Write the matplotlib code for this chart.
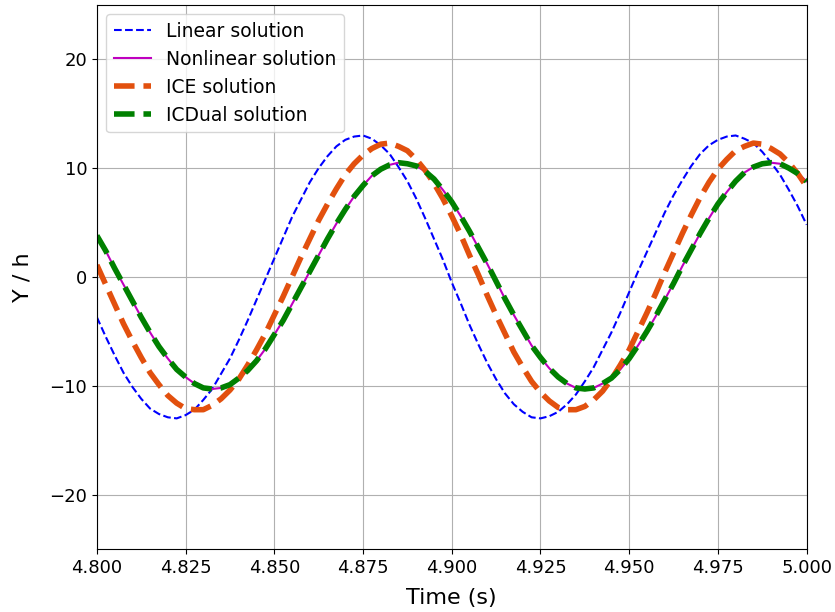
import matplotlib
matplotlib.use('Agg')
import matplotlib.pyplot as plt

# Time samples (s)
time = [4.8000, 4.8025, 4.8050, 4.8075, 4.8100, 4.8125, 4.8150, 4.8175, 4.8200, 4.8225,
        4.8250, 4.8275, 4.8300, 4.8325, 4.8350, 4.8375, 4.8400, 4.8425, 4.8450, 4.8475,
        4.8500, 4.8525, 4.8550, 4.8575, 4.8600, 4.8625, 4.8650, 4.8675, 4.8700, 4.8725,
        4.8750, 4.8775, 4.8800, 4.8825, 4.8850, 4.8875, 4.8900, 4.8925, 4.8950, 4.8975,
        4.9000, 4.9025, 4.9050, 4.9075, 4.9100, 4.9125, 4.9150, 4.9175, 4.9200, 4.9225,
        4.9250, 4.9275, 4.9300, 4.9325, 4.9350, 4.9375, 4.9400, 4.9425, 4.9450, 4.9475,
        4.9500, 4.9525, 4.9550, 4.9575, 4.9600, 4.9625, 4.9650, 4.9675, 4.9700, 4.9725,
        4.9750, 4.9775, 4.9800, 4.9825, 4.9850, 4.9875, 4.9900, 4.9925, 4.9950, 4.9975,
        5.0000]

# Values
linear_y = [-3.7, -5.5, -7.2, -8.8, -10.1, -11.2, -12.1, -12.6, -12.9, -13.0,
            -12.7, -12.2, -11.3, -10.3, -8.9, -7.5, -5.8, -4.0, -2.1, -0.2,
            1.7, 3.6, 5.5, 7.1, 8.7, 10.0, 11.1, 12.0, 12.6, 12.9,
            13.0, 12.7, 12.1, 11.3, 10.1, 8.8, 7.2, 5.4, 3.5, 1.6,
            -0.5, -2.4, -4.4, -6.2, -7.9, -9.4, -10.7, -11.7, -12.4, -12.9,
            -13.0, -12.8, -12.4, -11.7, -10.8, -9.6, -8.3, -6.7, -5.1, -3.3,
            -1.4, 0.5, 2.3, 4.1, 5.9, 7.5, 8.9, 10.2, 11.3, 12.1,
            12.6, 12.9, 13.0, 12.7, 12.3, 11.5, 10.5, 9.4, 8.0, 6.5,
            4.8]

nonlinear_y = [3.8, 2.4, 0.8, -0.7, -2.2, -3.7, -5.1, -6.4, -7.5, -8.5,
               -9.2, -9.8, -10.2, -10.3, -10.2, -9.9, -9.3, -8.6, -7.7, -6.6,
               -5.3, -4.0, -2.5, -1.0, 0.5, 2.0, 3.5, 4.9, 6.2, 7.4,
               8.4, 9.3, 9.9, 10.3, 10.5, 10.4, 10.2, 9.7, 9.0, 8.0,
               6.9, 5.6, 4.2, 2.7, 1.2, -0.4, -2.0, -3.5, -4.9, -6.3,
               -7.4, -8.4, -9.2, -9.8, -10.2, -10.3, -10.2, -9.8, -9.3, -8.5,
               -7.5, -6.3, -5.0, -3.6, -2.1, -0.6, 1.0, 2.5, 4.0, 5.4,
               6.7, 7.8, 8.8, 9.6, 10.1, 10.4, 10.5, 10.4, 10.0, 9.5,
               8.8]

ice_y = [1.1, -0.7, -2.5, -4.3, -5.9, -7.4, -8.8, -9.9, -10.9, -11.6,
         -12.1, -12.2, -12.2, -11.8, -11.2, -10.4, -9.4, -8.1, -6.7, -5.2,
         -3.5, -1.8, 0.0, 1.8, 3.5, 5.2, 6.7, 8.1, 9.4, 10.4,
         11.2, 11.8, 12.2, 12.3, 12.0, 11.6, 10.8, 9.8, 8.6, 7.2,
         5.6, 3.9, 2.0, 0.2, -1.7, -3.5, -5.2, -6.9, -8.3, -9.6,
         -10.6, -11.4, -12.0, -12.2, -12.2, -11.9, -11.3, -10.5, -9.4, -8.1,
         -6.7, -5.0, -3.3, -1.5, 0.4, 2.2, 4.0, 5.7, 7.3, 8.7,
         9.9, 10.8, 11.6, 12.0, 12.3, 12.2, 11.8, 11.3, 10.5, 9.5,
         8.3]

icdual_y = [3.8, 2.4, 0.8, -0.7, -2.2, -3.7, -5.1, -6.4, -7.5, -8.5,
            -9.2, -9.8, -10.2, -10.3, -10.2, -9.9, -9.3, -8.6, -7.7, -6.6,
            -5.3, -4.0, -2.5, -1.0, 0.5, 2.0, 3.5, 4.9, 6.2, 7.4,
            8.4, 9.3, 9.9, 10.3, 10.5, 10.4, 10.2, 9.7, 9.0, 8.0,
            6.9, 5.6, 4.2, 2.7, 1.2, -0.4, -2.0, -3.5, -4.9, -6.3,
            -7.4, -8.4, -9.2, -9.8, -10.2, -10.3, -10.2, -9.8, -9.3, -8.5,
            -7.5, -6.3, -5.0, -3.6, -2.1, -0.6, 1.0, 2.5, 4.0, 5.4,
            6.7, 7.8, 8.8, 9.6, 10.1, 10.4, 10.5, 10.4, 10.0, 9.5,
            8.8]

xticks = [4.800, 4.825, 4.850, 4.875, 4.900, 4.925, 4.950, 4.975, 5.000]
xtick_labels = ['4.800', '4.825', '4.850', '4.875', '4.900', '4.925',
                '4.950', '4.975', '5.000']
yticks = [-20, -10, 0, 10, 20]

fig, ax = plt.subplots(figsize=(8.35, 6.12), dpi=100)
fig.subplots_adjust(left=0.116, right=0.966, top=0.992, bottom=0.103)

ax.plot(time, linear_y, 'b--', lw=1.5, label='Linear solution')
ax.plot(time, nonlinear_y, 'm-', lw=1.5, label='Nonlinear solution')
ax.plot(time, ice_y, '--', color='#e2500e', lw=4, label='ICE solution')
ax.plot(time, icdual_y, '--', color='green', lw=4, label='ICDual solution')

ax.set_xlim(4.8, 5.0)
ax.set_ylim(-25, 25)
ax.set_xticks(xticks)
ax.set_xticklabels(xtick_labels)
ax.set_yticks(yticks)
ax.tick_params(labelsize=13)
ax.grid(True)

ax.set_xlabel('Time (s)', fontsize=16, labelpad=8)
ax.set_ylabel('Y / h', fontsize=16, labelpad=12)
ax.legend(loc='upper left', fontsize=13.5, labelspacing=0.48)

fig.savefig('out.png', dpi=100)
